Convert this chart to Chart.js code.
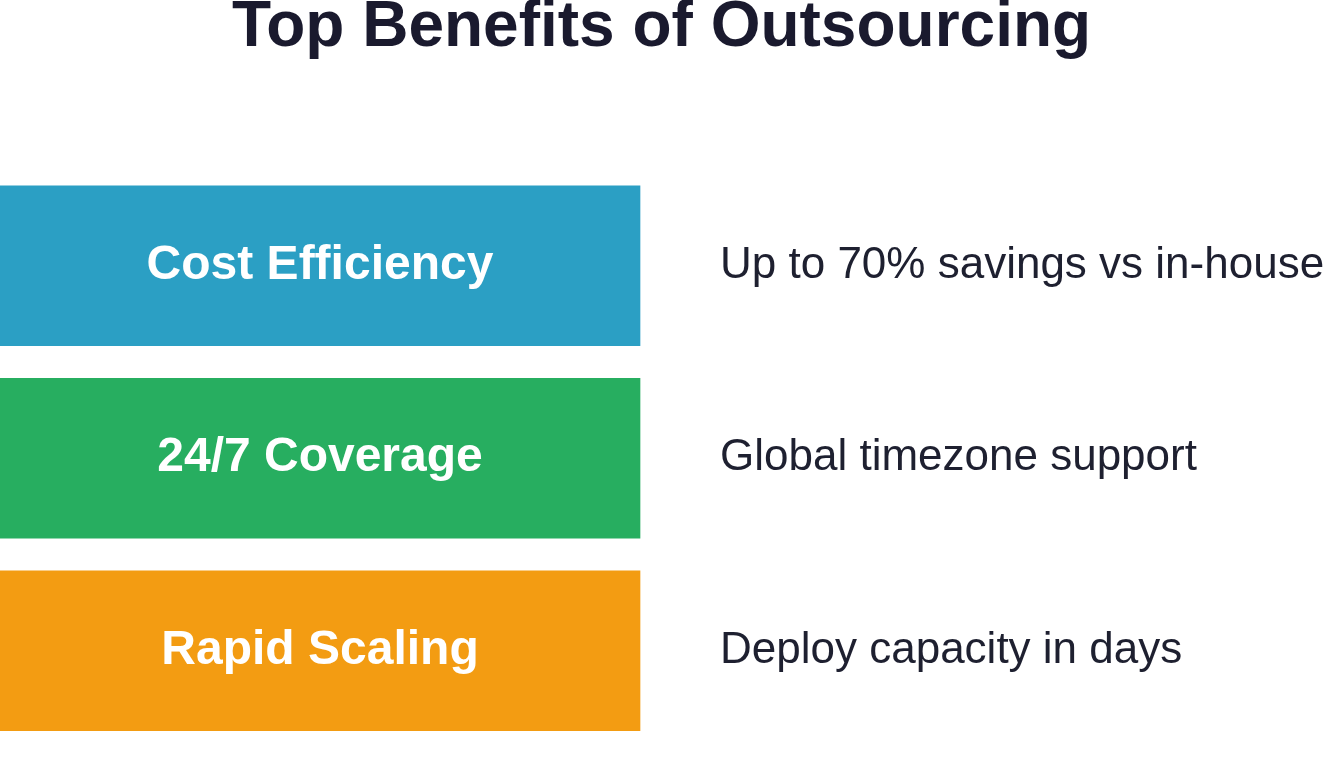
<!DOCTYPE html>
<html><head><meta charset="utf-8">
<script src="https://cdn.jsdelivr.net/npm/chart.js@4"></script>
<style>html,body{margin:0;padding:0;background:#fff;overflow:hidden}canvas{display:block}</style>
</head><body><canvas id="c" width="1323" height="762" style="width:1323px;height:762px"></canvas>
<script>
const categories = ["Cost Efficiency", "24/7 Coverage", "Rapid Scaling"];
const descriptions = ["Up to 70% savings vs in-house", "Global timezone support", "Deploy capacity in days"];
const values = [1, 1, 1];
const colors = ["#2b9fc4", "#27ae60", "#f39c12"];

const labelPlugin = {
  id: 'labels',
  afterDatasetsDraw(chart) {
    const ctx = chart.ctx;
    const meta = chart.getDatasetMeta(0);
    ctx.save();
    ctx.textBaseline = 'middle';
    meta.data.forEach((bar, i) => {
      ctx.font = 'bold 48px "Liberation Sans", Arial, sans-serif';
      ctx.fillStyle = '#ffffff';
      ctx.textAlign = 'center';
      ctx.fillText(categories[i], (bar.base + bar.x) / 2, bar.y);
      ctx.font = '44px "Liberation Sans", Arial, sans-serif';
      ctx.fillStyle = '#1e2030';
      ctx.textAlign = 'left';
      ctx.fillText(descriptions[i], chart.scales.x.getPixelForValue(1.125), bar.y);
    });
    ctx.restore();
  }
};

new Chart(document.getElementById('c'), {
  type: 'bar',
  data: {
    datasets: [{
      data: values.map((v, i) => ({x: v, y: i})),
      backgroundColor: colors,
      borderWidth: 0,
      barThickness: 160
    }]
  },
  options: {
    indexAxis: 'y',
    responsive: false,
    animation: false,
    devicePixelRatio: 1,
    layout: {padding: 0},
    scales: {
      x: {type: 'linear', min: 0, max: 1323 / 640, display: false},
      y: {type: 'linear', reverse: true, min: -140 / 220, max: 2 + 80 / 220, display: false}
    },
    plugins: {
      legend: {display: false},
      tooltip: {enabled: false},
      title: {
        display: true,
        text: 'Top Benefits of Outsourcing',
        color: '#1a1a2e',
        font: {family: '"Liberation Sans", Arial, sans-serif', size: 64, weight: 'bold', lineHeight: 0.9},
        padding: {top: 0, bottom: 44.4}
      }
    }
  },
  plugins: [labelPlugin]
});
</script></body></html>
